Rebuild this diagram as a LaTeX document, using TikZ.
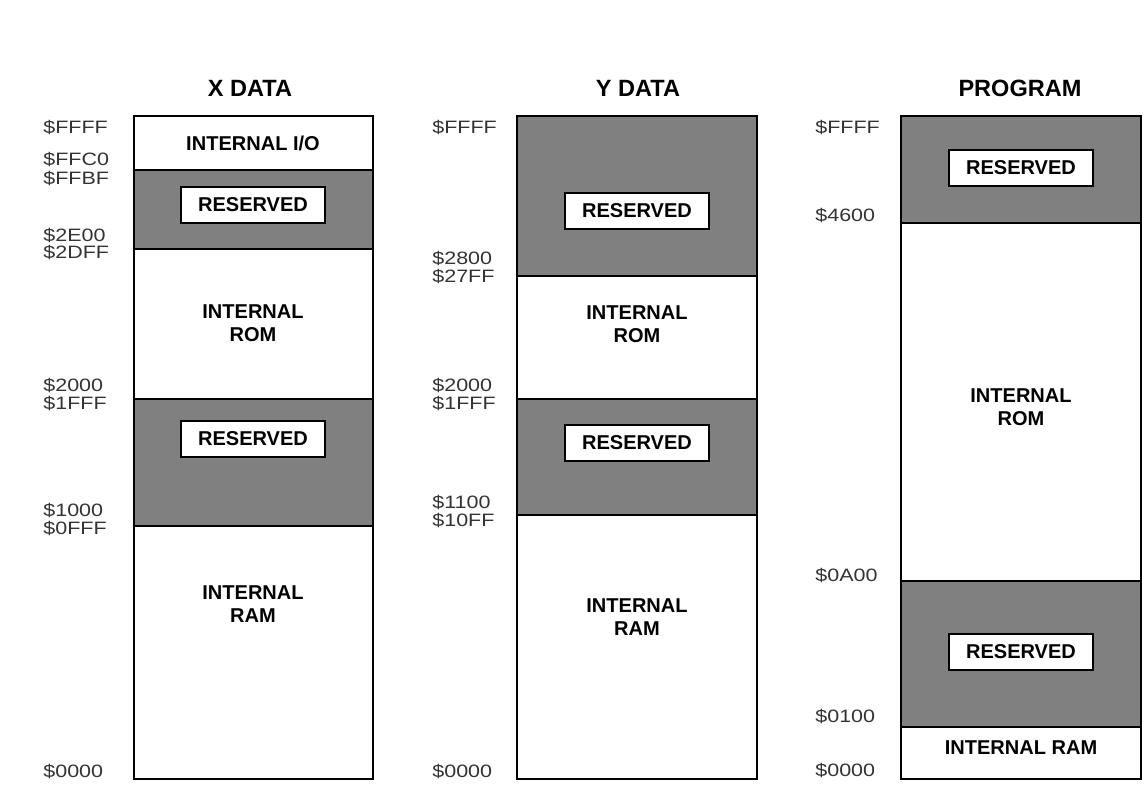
\documentclass[tikz,border=0pt]{standalone}
\usepackage{fontspec}
\setmainfont{Liberation Sans}
\newfontfamily\addrfont[FakeStretch=1.2]{Liberation Sans}
\usetikzlibrary{positioning}

\tikzset{
  mem/.style={draw,line width=1.1pt},
  resv/.style={fill=black!50},
  title/.style={font=\fontsize{13.4}{15}\selectfont\bfseries},
  txt/.style={align=center,font=\fontsize{11.4}{13}\selectfont\bfseries},
  tag/.style={draw,fill=white,line width=1.1pt,minimum width=2.88cm,minimum height=0.72cm,inner sep=0pt,font=\fontsize{11.4}{13}\selectfont\bfseries},
  addr/.style={anchor=west,inner sep=0pt,text=black!80,font=\addrfont\fontsize{10.2}{12}\selectfont}
}

\begin{document}
\begin{tikzpicture}[x=0.02cm,y=-0.02cm]
		\useasboundingbox (0,0) rectangle (1146,787);
		% X data
		\fill[resv] (134,170) rectangle (373,249) (134,399) rectangle (373,526);
		\draw[mem] (134,116) rectangle (373,779);
		\draw[mem] (134,170) -- (373,170) (134,249) -- (373,249) (134,399) -- (373,399) (134,526) -- (373,526);
		\node[title] (xt) at (250,88) {X DATA};
		\node[txt] (xio) at (253,143) {INTERNAL I/O};
		\node[tag] (xr1) at (253,205) {RESERVED};
		\node[txt] (xrom) at (253,323) {INTERNAL\\ROM};
		\node[tag] (xr2) at (253,439) {RESERVED};
		\node[txt] (xram) at (253,604) {INTERNAL\\RAM};
		\node[addr] (xa1) at (43,127) {\$FFFF};
		\node[addr] (xa2) at (43,159) {\$FFC0};
		\node[addr] (xa3) at (43,178) {\$FFBF};
		\node[addr] (xa4) at (43,235) {\$2E00};
		\node[addr] (xa5) at (43,252) {\$2DFF};
		\node[addr] (xa6) at (43,385) {\$2000};
		\node[addr] (xa7) at (43,403) {\$1FFF};
		\node[addr] (xa8) at (43,510) {\$1000};
		\node[addr] (xa9) at (43,528) {\$0FFF};
		\node[addr] (xa10) at (43,771) {\$0000};
		% Y data
		\fill[resv] (517,116) rectangle (757,276) (517,399) rectangle (757,515);
		\draw[mem] (517,116) rectangle (757,779);
		\draw[mem] (517,276) -- (757,276) (517,399) -- (757,399) (517,515) -- (757,515);
		\node[title] (yt) at (638,88) {Y DATA};
		\node[tag] (yr1) at (637,211) {RESERVED};
		\node[txt] (yrom) at (637,324) {INTERNAL\\ROM};
		\node[tag] (yr2) at (637,443) {RESERVED};
		\node[txt] (yram) at (637,617) {INTERNAL\\RAM};
		\node[addr] (ya1) at (432,127) {\$FFFF};
		\node[addr] (ya2) at (432,258) {\$2800};
		\node[addr] (ya3) at (432,276) {\$27FF};
		\node[addr] (ya4) at (432,385) {\$2000};
		\node[addr] (ya5) at (432,403) {\$1FFF};
		\node[addr] (ya6) at (432,502) {\$1100};
		\node[addr] (ya7) at (432,520) {\$10FF};
		\node[addr] (ya8) at (432,771) {\$0000};
		% program
		\fill[resv] (901,116) rectangle (1141,223) (901,581) rectangle (1141,727);
		\draw[mem] (901,116) rectangle (1141,779);
		\draw[mem] (901,223) -- (1141,223) (901,581) -- (1141,581) (901,727) -- (1141,727);
		\node[title] (pt) at (1020,88) {PROGRAM};
		\node[tag] (pr1) at (1021,168) {RESERVED};
		\node[txt] (prom) at (1021,407) {INTERNAL\\ROM};
		\node[tag] (pr2) at (1021,652) {RESERVED};
		\node[txt] (pram) at (1021,748) {INTERNAL RAM};
		\node[addr] (pa1) at (815,127) {\$FFFF};
		\node[addr] (pa2) at (815,215) {\$4600};
		\node[addr] (pa3) at (815,575) {\$0A00};
		\node[addr] (pa4) at (815,716) {\$0100};
		\node[addr] (pa5) at (815,770) {\$0000};
		\end{tikzpicture}
\end{document}
